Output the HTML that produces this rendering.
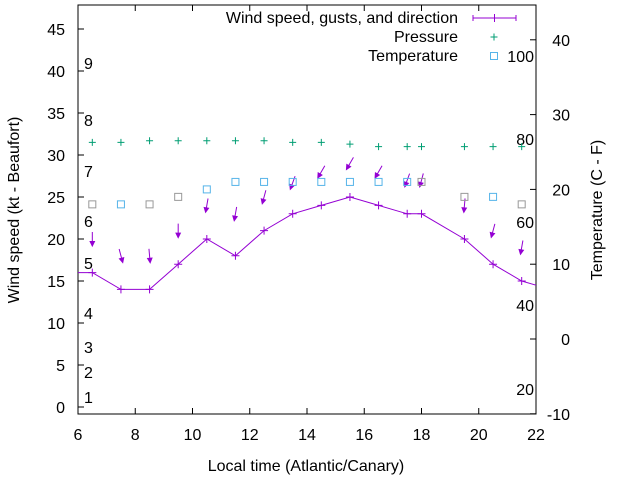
<!DOCTYPE html>
<html><head><meta charset="utf-8"><style>
body{margin:0;background:#fff}
svg{font-family:"Liberation Sans",sans-serif;font-size:16px}
</style></head><body>
<svg id="c" width="640" height="480" xmlns="http://www.w3.org/2000/svg">
<g id="g"></g>
</svg>
<script>
const times=[6.5,7.5,8.5,9.5,10.5,11.5,12.5,13.5,14.5,15.5,16.5,17.5,18,19.5,20.5,21.5];
const windSpeed=[16,14,14,17,20,18,21,23,24,25,24,23,23,20,17,15];
const windStart=16, windEnd=14.5;
const gusts=[20,18,18,21,24,23,25,26.7,28,29,28,27,27,24,21,19];
const windDir=[0,345,355,0,10,10,15,20,30,30,30,20,15,5,15,10];
const pressure=[31.5,31.5,31.7,31.7,31.7,31.7,31.7,31.5,31.5,31.3,31.0,31.0,31.0,31.0,31.0,31.0];
const temperature=[18,18,18,19,20,21,21,21,21,21,21,21,21,19,19,18];
const tempBlue=[0,1,0,0,1,1,1,1,1,1,1,1,0,0,1,0];
const xTicks=[6,8,10,12,14,16,18,20,22];
const yTicks=[0,5,10,15,20,25,30,35,40,45];
const y2Ticks=[-10,0,10,20,30,40];
const beaufort=[[1,397],[2,372],[3,347],[4,313],[5,263],[6,221],[7,171],[8,120],[9,63]];
const fahr=[[20,389],[40,305],[60,222],[80,139],[100,56]];

const L=78,R=536,T=5,B=414;
const X=t=>L+(t-6)*(R-L)/16;
const Y=v=>407-v*8.4;
const Y2=v=>339-v*7.48;
const g=document.getElementById('g');
const NS='http://www.w3.org/2000/svg';
function mk(tag,at,txt){const e=document.createElementNS(NS,tag);for(const k in at)e.setAttribute(k,at[k]);if(txt!==undefined)e.textContent=txt;g.appendChild(e);return e;}

let e=mk('rect',{x:L,y:T,width:R-L,height:B-T,fill:'none',stroke:'#000','stroke-width':1});


xTicks.forEach(t=>{
 e=mk('line',{x1:X(t),x2:X(t),y1:B,y2:B-6,stroke:'#000'});
 
 
 mk('line',{x1:X(t),x2:X(t),y1:T,y2:T+6,stroke:'#000'});
 e=mk('text',{x:X(t),y:B+26,'text-anchor':'middle'},t);
 
 
});
yTicks.forEach(v=>{
 e=mk('line',{x1:L,x2:L+6,y1:Y(v),y2:Y(v),stroke:'#000'});
 
 
 e=mk('text',{x:L-13,y:Y(v)+6,'text-anchor':'end'},v);
 
 
});
y2Ticks.forEach(v=>{
 e=mk('line',{x1:R-6,x2:R,y1:Y2(v),y2:Y2(v),stroke:'#000'});
 
 
 e=mk('text',{x:R+34,y:Y2(v)+6,'text-anchor':'end'},v);
 
 
});
beaufort.forEach(b=>{e=mk('text',{x:84,y:b[1]+6},b[0]);
 
 });
fahr.forEach(b=>{e=mk('text',{x:534,y:b[1]+6,'text-anchor':'end'},b[0]);
 
 });

let pts=[[X(6),Y(windStart)]];
times.forEach((t,i)=>pts.push([X(t),Y(windSpeed[i])]));
pts.push([X(22),Y(windEnd)]);
e=mk('polyline',{points:pts.map(p=>p.join(',')).join(' '),fill:'none',stroke:'#9400d3','stroke-width':1});


times.forEach((t,i)=>{
 const x=X(t),y=Y(windSpeed[i]);
 e=mk('path',{d:`M${x-4},${y}H${x+4}M${x},${y-4}V${y+4}`,stroke:'#9400d3'});
 
 
});
times.forEach((t,i)=>{
 const x=X(t),y=Y(gusts[i]),a=windDir[i]*Math.PI/180;
 const dx=-Math.sin(a)*7,dy=Math.cos(a)*7;
 const hx=x+dx,hy=y+dy,tx=x-dx,ty=y-dy;
 const ux=dx/7,uy=dy/7;
 const p1=[hx-ux*4.5-uy*2.2,hy-uy*4.5+ux*2.2],p2=[hx-ux*4.5+uy*2.2,hy-uy*4.5-ux*2.2];
 e=mk('path',{d:`M${tx},${ty}L${hx},${hy}M${hx},${hy}L${p1}L${p2}Z`,stroke:'#9400d3',fill:'#9400d3','stroke-width':1});
 
 
});
times.forEach((t,i)=>{
 const x=X(t),y=Y(pressure[i]);
 e=mk('path',{d:`M${x-3.5},${y}H${x+3.5}M${x},${y-3.5}V${y+3.5}`,stroke:'#009e73'});
 
 
});
times.forEach((t,i)=>{
 const x=X(t),y=Y2(temperature[i]);
 e=mk('rect',{x:x-3.5,y:y-3.5,width:7,height:7,fill:'none',stroke:tempBlue[i]?'#56b4e9':'#999'});
 
 
});
e=mk('text',{x:458,y:23,'text-anchor':'end'},'Wind speed, gusts, and direction');


mk('path',{d:'M473,18H516M473,15V21M516,15V21M494.5,14V22',stroke:'#9400d3'});
e=mk('text',{x:458,y:42,'text-anchor':'end'},'Pressure');


mk('path',{d:'M490.5,37H497.5M494,33.5V40.5',stroke:'#009e73'});
e=mk('text',{x:458,y:61,'text-anchor':'end'},'Temperature');


mk('rect',{x:490.5,y:52.5,width:7,height:7,fill:'none',stroke:'#56b4e9'});
e=mk('text',{x:306,y:471,'text-anchor':'middle'},'Local time (Atlantic/Canary)');


e=mk('text',{x:0,y:0,'text-anchor':'middle',transform:'translate(19,210) rotate(-90)'},'Wind speed (kt - Beaufort)');


e=mk('text',{x:0,y:0,'text-anchor':'middle',transform:'translate(602,210) rotate(-90)'},'Temperature (C - F)');


</script>
</body></html>
